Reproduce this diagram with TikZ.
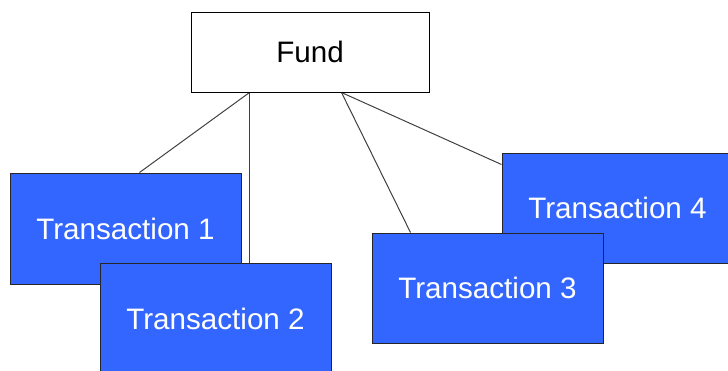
\documentclass[tikz,border=0pt]{standalone}
\usepackage{fontspec}
\setmainfont{Liberation Sans}
\usetikzlibrary{backgrounds}
\definecolor{tblue}{HTML}{3366FF}
\definecolor{lgray}{HTML}{404040}
\begin{document}
\begin{tikzpicture}[x=1pt,y=-1pt,
  fundbox/.style={draw=black,line width=1pt,fill=white,minimum width=238pt,minimum height=80pt,inner sep=0pt,font=\fontsize{29.6}{32}\selectfont},
  txbox/.style={draw=black!85,line width=1pt,fill=tblue,text=white,minimum width=231pt,minimum height=110pt,inner sep=0pt,font=\fontsize{29.6}{32}\selectfont},
  conn/.style={draw=lgray,line width=1pt}]
\useasboundingbox (0,0) rectangle (728,370);
\clip (0,0) rectangle (728,370);
\node[fundbox] (fund) at (310,52) {Fund};
\node[txbox,minimum height=111pt] (t1) at (125.5,228.5) {Transaction 1};
\node[txbox,minimum height=111pt] (t2) at (215.5,318.5) {Transaction 2};
\node[txbox] (t4) at (617.5,208) {Transaction 4};
\node[txbox] (t3) at (487.5,288) {Transaction 3};
\coordinate (fl) at ([xshift=59pt]fund.south west);
\coordinate (fr) at ([xshift=151pt]fund.south west);
\begin{scope}[on background layer]
\fill[white] (0,0) rectangle (728,370);
\draw[conn] (fl) -- ([xshift=130pt]t1.north west);
\draw[conn] (fl) -- ([xshift=150pt]t2.north west);
\draw[conn] (fr) -- ([xshift=39pt]t3.north west);
\draw[conn] (fr) -- ([yshift=-12pt]t4.north west);
\end{scope}
\end{tikzpicture}
\end{document}
